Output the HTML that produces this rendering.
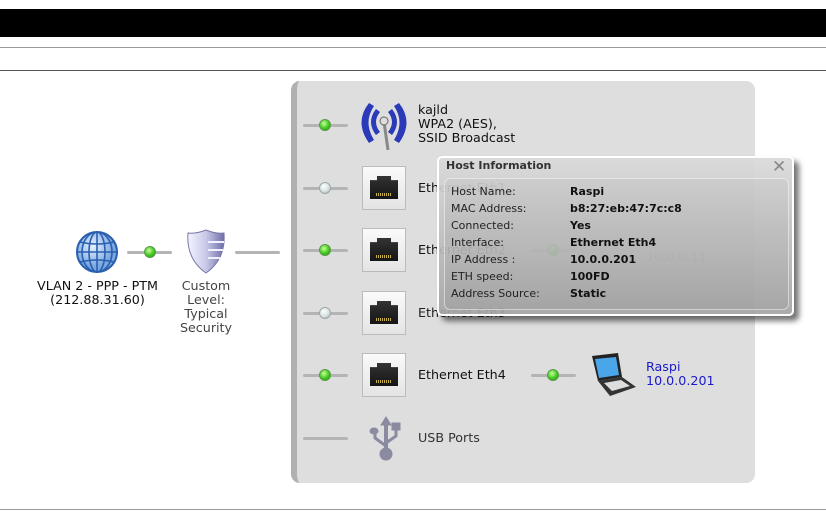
<!DOCTYPE html>
<html><head><meta charset="utf-8"><style>
body{margin:0;width:826px;height:522px;background:#fff;position:relative;overflow:hidden;font-family:"DejaVu Sans","Liberation Sans",sans-serif;}
.a{position:absolute;}
.t{position:absolute;font-size:12.7px;color:#111;line-height:14px;white-space:nowrap;}
.ln{position:absolute;height:3px;background:#b4b4b4;border-radius:2px;}
.led{position:absolute;width:12px;height:12px;border-radius:50%;box-sizing:border-box;}
.g{background:radial-gradient(circle at 40% 35%,#c8ff9a,#3fc81e 55%,#2a8f14);border:1px solid #5a9a4a;}
.w{background:radial-gradient(circle at 40% 35%,#fff,#d8e0e0 55%,#9aa4a4);border:1px solid #9aa;}
.port{position:absolute;width:44px;height:44px;box-sizing:border-box;border:1px solid #bbb;background:linear-gradient(#fafafa,#e4e4e4);}
.port:after{content:"";position:absolute;left:7px;top:9px;width:28px;height:23px;background:linear-gradient(#333,#151515);clip-path:polygon(25% 0,75% 0,75% 18%,100% 18%,100% 100%,0 100%,0 18%,25% 18%);}
.port:before{content:"";position:absolute;left:13px;top:26px;width:16px;height:3px;background:repeating-linear-gradient(90deg,#c8b04a 0 1px,transparent 1px 2px);z-index:2;}
.pr{position:absolute;font-size:11px;color:#222;white-space:nowrap;}
.pv{position:absolute;font-size:11px;font-weight:bold;color:#111;white-space:nowrap;}
</style></head><body>
<div class="a" style="left:0;top:9px;width:826px;height:28px;background:#000"></div>
<div class="a" style="left:0;top:47px;width:826px;height:1px;background:#999"></div>
<div class="a" style="left:0;top:70px;width:826px;height:1px;background:#555"></div>
<div class="a" style="left:0;top:509px;width:826px;height:1px;background:#999"></div>

<svg class="a" style="left:75px;top:230px" width="44" height="44" viewBox="0 0 44 44">
<defs><radialGradient id="gl" cx="40%" cy="35%"><stop offset="0" stop-color="#e8f2ff"/><stop offset="1" stop-color="#7aa8e0"/></radialGradient></defs>
<circle cx="22" cy="22" r="20" fill="url(#gl)" stroke="#2a5fb0" stroke-width="2"/>
<g fill="none" stroke="#2a5fb0" stroke-width="1.6"><ellipse cx="22" cy="22" rx="8" ry="20"/><ellipse cx="22" cy="22" rx="15" ry="20"/><line x1="22" y1="2" x2="22" y2="42"/><line x1="2" y1="22" x2="42" y2="22"/><path d="M5 12Q22 16 39 12M5 32Q22 28 39 32"/></g></svg>
<div class="ln" style="left:127px;top:251px;width:45px"></div>
<div class="led g" style="left:144px;top:246px"></div>
<svg class="a" style="left:186px;top:229px" width="40" height="45" viewBox="0 0 40 45">
<defs><linearGradient id="sh" x1="0" x2="1"><stop offset="0" stop-color="#f4f4ff"/><stop offset="0.5" stop-color="#c8c8e8"/><stop offset="1" stop-color="#6e6ea8"/></linearGradient></defs>
<path d="M20 1Q30 5 38 4Q40 30 20 44Q0 30 2 4Q10 5 20 1Z" fill="url(#sh)" stroke="#7777a8"/>
<g stroke="#f0f0ff" stroke-width="2"><line x1="22" y1="13" x2="38" y2="13"/><line x1="22" y1="21" x2="37" y2="21"/><line x1="22" y1="29" x2="34" y2="29"/></g></svg>
<div class="ln" style="left:235px;top:251px;width:45px"></div>
<div class="t" style="left:20px;top:279px;width:155px;text-align:center">VLAN 2 - PPP - PTM<br>(212.88.31.60)</div>
<div class="t" style="left:166px;top:279px;width:80px;text-align:center;color:#444">Custom<br>Level:<br>Typical<br>Security</div>

<div class="a" style="left:291px;top:81px;width:464px;height:402px;background:#dedede;border-radius:9px;border-left:6px solid #b0b0b0;box-sizing:border-box"></div>

<div class="ln" style="left:303px;top:124px;width:45px"></div><div class="led g" style="left:319px;top:119px"></div>
<svg class="a" style="left:358px;top:98px" width="52" height="52" viewBox="0 0 52 52">
<g fill="#2a3ab8"><path d="M11 5Q-4 24 11 45L16 42Q5 24 16 8Z"/><path d="M41 5Q56 24 41 45L36 42Q47 24 36 8Z"/><path d="M18 11Q8 24 18 37L22 34Q14 24 22 14Z"/><path d="M34 11Q44 24 34 37L30 34Q38 24 30 14Z"/></g>
<line x1="26" y1="24" x2="30" y2="52" stroke="#888" stroke-width="3"/><circle cx="26" cy="23" r="4" fill="#ddd" stroke="#666"/></svg>
<div class="t" style="left:418px;top:103px">kajld<br>WPA2 (AES),<br>SSID Broadcast</div>

<div class="ln" style="left:303px;top:187px;width:45px"></div><div class="led w" style="left:319px;top:182px"></div>
<div class="port" style="left:362px;top:166px"></div><div class="t" style="left:418px;top:181px">Ethernet Eth1</div>
<div class="ln" style="left:303px;top:249px;width:45px"></div><div class="led g" style="left:319px;top:244px"></div>
<div class="port" style="left:362px;top:228px"></div><div class="t" style="left:418px;top:243px">Ethernet Eth2</div>
<div class="ln" style="left:531px;top:249px;width:45px"></div><div class="led g" style="left:547px;top:244px"></div>
<div class="t" style="left:646px;top:250px;color:#999">10.0.0.11</div>
<div class="ln" style="left:303px;top:312px;width:45px"></div><div class="led w" style="left:319px;top:307px"></div>
<div class="port" style="left:362px;top:291px"></div><div class="t" style="left:418px;top:306px;color:#222">Ethernet Eth3</div>
<div class="ln" style="left:303px;top:374px;width:45px"></div><div class="led g" style="left:319px;top:369px"></div>
<div class="port" style="left:362px;top:353px"></div><div class="t" style="left:418px;top:368px">Ethernet Eth4</div>
<div class="ln" style="left:531px;top:374px;width:45px"></div><div class="led g" style="left:547px;top:369px"></div>
<svg class="a" style="left:588px;top:353px" width="50" height="44" viewBox="0 0 50 44">
<path d="M4 3L30 0L34 24L10 28Z" fill="#222"/><path d="M7 6L28 4L31 22L11 25Z" fill="#4aa6e8"/>
<path d="M10 28L34 24L48 34L22 43Z" fill="#333"/><path d="M16 30L33 27L42 33L24 38Z" fill="#ddd"/></svg>
<div class="t" style="left:646px;top:360px;color:#1a1ac8">Raspi<br>10.0.0.201</div>
<div class="ln" style="left:303px;top:437px;width:45px"></div>
<svg class="a" style="left:369px;top:416px" width="34" height="45" viewBox="0 0 34 45">
<g fill="#8a8aa0" stroke="#8a8aa0"><path d="M17 1L12 9H22Z"/><line x1="17" y1="8" x2="17" y2="36" stroke-width="4"/><circle cx="17" cy="38" r="6"/><path d="M17 30L6 22V17" fill="none" stroke-width="3"/><ellipse cx="5" cy="15" rx="4" ry="3"/><path d="M17 27L27 20V12" fill="none" stroke-width="3"/><rect x="23" y="7" width="8" height="7"/></g></svg>
<div class="t" style="left:418px;top:431px;color:#333">USB Ports</div>

<div class="a" style="left:437px;top:156px;width:357px;height:160px;box-sizing:border-box;border:2px solid #fff;border-radius:5px;background:linear-gradient(rgba(218,218,218,0.93),rgba(165,165,165,0.93));box-shadow:5px 5px 6px rgba(0,0,0,0.55)"></div>
<div class="a" style="left:446px;top:159px;font-size:11px;font-weight:bold;color:#333">Host Information</div>
<div class="a" style="left:772px;top:158px;font-size:17px;color:#888;line-height:18px">✕</div>
<div class="a" style="left:444px;top:178px;width:345px;height:132px;box-sizing:border-box;border:1px solid rgba(255,255,255,0.5);border-radius:6px;background:rgba(0,0,0,0.03)"></div>
<div class="pr" style="left:451px;top:185px">Host Name:</div><div class="pv" style="left:570px;top:185px">Raspi</div>
<div class="pr" style="left:451px;top:202px">MAC Address:</div><div class="pv" style="left:570px;top:202px">b8:27:eb:47:7c:c8</div>
<div class="pr" style="left:451px;top:219px">Connected:</div><div class="pv" style="left:570px;top:219px">Yes</div>
<div class="pr" style="left:451px;top:236px">Interface:</div><div class="pv" style="left:570px;top:236px">Ethernet Eth4</div>
<div class="pr" style="left:451px;top:253px">IP Address :</div><div class="pv" style="left:570px;top:253px">10.0.0.201</div>
<div class="pr" style="left:451px;top:270px">ETH speed:</div><div class="pv" style="left:570px;top:270px">100FD</div>
<div class="pr" style="left:451px;top:287px">Address Source:</div><div class="pv" style="left:570px;top:287px">Static</div>
</body></html>
